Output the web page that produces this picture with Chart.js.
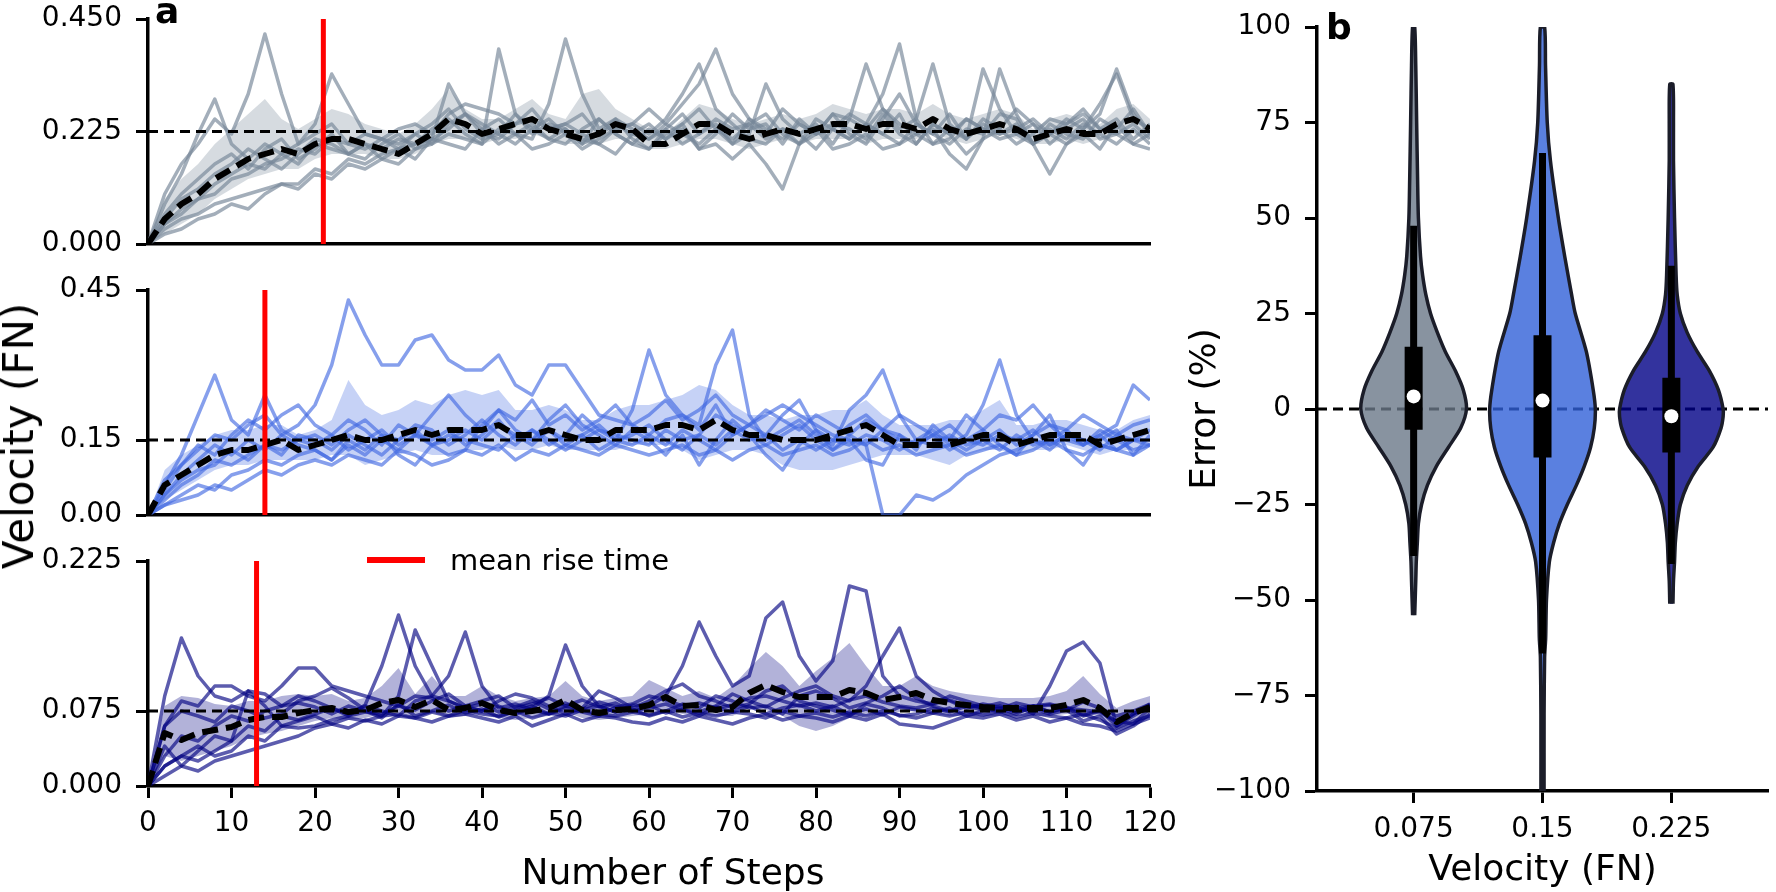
<!DOCTYPE html>
<html>
<head>
<meta charset="utf-8">
<title>Velocity tracking</title>
<script src="https://cdn.jsdelivr.net/npm/chart.js@4.4.1/dist/chart.umd.min.js"></script>
<style>
  body { margin: 0; background: #fff; }
  #page { position: relative; width: 1776px; height: 892px; overflow: hidden;
          font-family: 'DejaVu Sans', sans-serif; color: #000; }
  canvas { position: absolute; }
  .tag { position: absolute; font-size: 36px; font-weight: bold; line-height: 36px; }
  .label { position: absolute; font-size: 36px; line-height: 36px; white-space: nowrap;
           transform: translate(-50%, -50%); }
  #legend { position: absolute; left: 367px; top: 544px; height: 32px; display: flex; align-items: center;
            font-size: 29px; }
  #legend span.swatch { display: inline-block; width: 58px; height: 6px; background: #ff0000; margin-right: 25px; }
</style>
</head>
<body>
<div id="page">
  <canvas id="topChart" width="1200" height="262" style="left:0;top:0"></canvas>
  <canvas id="midChart" width="1200" height="280" style="left:0;top:260px"></canvas>
  <canvas id="botChart" width="1200" height="362" style="left:0;top:530px"></canvas>
  <canvas id="violinChart" width="600" height="892" style="left:1176px;top:0"></canvas>

  <div class="tag" style="left:155px;top:-7px">a</div>
  <div class="tag" style="left:1326px;top:9px">b</div>
  <div class="label" style="left:19px;top:436px;font-size:42px;transform:translate(-50%,-50%) rotate(-90deg)">Velocity (FN)</div>
  <div class="label" style="left:673px;top:872px">Number of Steps</div>
  <div id="legend"><span class="swatch"></span>mean rise time</div>
</div>

<script>
// steps along the episode (every second step is kept)
const steps = [0, 2, 4, 6, 8, 10, 12, 14, 16, 18, 20, 22, 24, 26, 28, 30, 32, 34, 36, 38,
  40, 42, 44, 46, 48, 50, 52, 54, 56, 58, 60, 62, 64, 66, 68, 70, 72, 74, 76, 78,
  80, 82, 84, 86, 88, 90, 92, 94, 96, 98, 100, 102, 104, 106, 108, 110, 112, 114, 116, 118, 120];

const targets = [0.225, 0.15, 0.075];
const riseTimes = [21, 14, 13];

// ---- panel a, top: target 0.225 FN ----
const topMean = [
  0, 0.05, 0.08, 0.1, 0.13, 0.15, 0.17, 0.18, 0.19, 0.18,
  0.2, 0.21, 0.21, 0.2, 0.19, 0.18, 0.2, 0.22, 0.25, 0.24,
  0.22, 0.23, 0.24, 0.25, 0.23, 0.22, 0.21, 0.22, 0.24, 0.23,
  0.2, 0.2, 0.22, 0.24, 0.24, 0.22, 0.21, 0.22, 0.23, 0.22,
  0.23, 0.24, 0.24, 0.23, 0.24, 0.24, 0.23, 0.25, 0.23, 0.22,
  0.23, 0.24, 0.23, 0.21, 0.22, 0.23, 0.22, 0.22, 0.24, 0.25, 0.23];
const topLow = [
  0, 0.02, 0.04, 0.06, 0.09, 0.11, 0.13, 0.14, 0.15, 0.15,
  0.17, 0.18, 0.18, 0.18, 0.17, 0.17, 0.18, 0.2, 0.21, 0.21,
  0.2, 0.21, 0.21, 0.22, 0.21, 0.2, 0.2, 0.2, 0.21, 0.21,
  0.19, 0.19, 0.2, 0.21, 0.21, 0.2, 0.19, 0.2, 0.21, 0.2,
  0.21, 0.21, 0.21, 0.2, 0.21, 0.21, 0.21, 0.22, 0.21, 0.2,
  0.21, 0.22, 0.21, 0.2, 0.2, 0.21, 0.2, 0.21, 0.22, 0.22, 0.21];
const topHigh = [
  0, 0.09, 0.13, 0.16, 0.2, 0.23, 0.26, 0.29, 0.25, 0.23,
  0.25, 0.27, 0.26, 0.24, 0.23, 0.22, 0.24, 0.27, 0.31, 0.27,
  0.25, 0.25, 0.27, 0.29, 0.26, 0.25, 0.3, 0.31, 0.27, 0.25,
  0.23, 0.22, 0.25, 0.28, 0.27, 0.25, 0.24, 0.25, 0.26, 0.25,
  0.26, 0.28, 0.27, 0.26, 0.27, 0.27, 0.26, 0.28, 0.26, 0.25,
  0.26, 0.27, 0.26, 0.23, 0.25, 0.26, 0.25, 0.24, 0.27, 0.28, 0.25];
const topRuns = [
  [0, 0.1, 0.16, 0.2, 0.25, 0.22, 0.3, 0.42, 0.3, 0.2,
   0.22, 0.24, 0.2, 0.19, 0.21, 0.2, 0.22, 0.24, 0.27, 0.23,
   0.21, 0.22, 0.26, 0.23, 0.21, 0.2, 0.23, 0.25, 0.22, 0.2,
   0.19, 0.23, 0.26, 0.22, 0.24, 0.2, 0.25, 0.23, 0.21, 0.24,
   0.22, 0.26, 0.22, 0.2, 0.25, 0.3, 0.24, 0.22, 0.2, 0.23,
   0.22, 0.26, 0.25, 0.2, 0.24, 0.22, 0.21, 0.25, 0.23, 0.27, 0.22],
  [0, 0.04, 0.07, 0.09, 0.12, 0.14, 0.16, 0.15, 0.18, 0.2,
   0.24, 0.34, 0.28, 0.22, 0.21, 0.19, 0.2, 0.21, 0.32, 0.26,
   0.22, 0.21, 0.24, 0.27, 0.23, 0.24, 0.22, 0.2, 0.23, 0.24,
   0.22, 0.25, 0.3, 0.36, 0.27, 0.24, 0.21, 0.2, 0.23, 0.22,
   0.24, 0.2, 0.25, 0.23, 0.27, 0.24, 0.22, 0.2, 0.21, 0.25,
   0.23, 0.22, 0.24, 0.2, 0.22, 0.24, 0.26, 0.23, 0.22, 0.24, 0.21],
  [0, 0.02, 0.03, 0.05, 0.06, 0.08, 0.07, 0.1, 0.12, 0.11,
   0.14, 0.13, 0.16, 0.15, 0.17, 0.16, 0.19, 0.2, 0.22, 0.21,
   0.2, 0.23, 0.22, 0.24, 0.21, 0.23, 0.2, 0.22, 0.24, 0.22,
   0.21, 0.23, 0.2, 0.22, 0.25, 0.23, 0.24, 0.21, 0.23, 0.2,
   0.22, 0.24, 0.23, 0.21, 0.26, 0.22, 0.2, 0.24, 0.22, 0.25,
   0.23, 0.21, 0.22, 0.2, 0.23, 0.21, 0.24, 0.22, 0.2, 0.23, 0.2],
  [0, 0.08, 0.14, 0.22, 0.29, 0.2, 0.17, 0.2, 0.18, 0.16,
   0.2, 0.19, 0.18, 0.2, 0.17, 0.19, 0.22, 0.2, 0.24, 0.26,
   0.23, 0.25, 0.22, 0.21, 0.28, 0.41, 0.3, 0.23, 0.25, 0.21,
   0.19, 0.22, 0.24, 0.27, 0.23, 0.2, 0.22, 0.32, 0.25, 0.22,
   0.19, 0.23, 0.21, 0.24, 0.22, 0.26, 0.2, 0.24, 0.22, 0.18,
   0.21, 0.23, 0.2, 0.22, 0.25, 0.24, 0.27, 0.23, 0.25, 0.21, 0.24],
  [0, 0.06, 0.1, 0.13, 0.16, 0.18, 0.15, 0.19, 0.21, 0.17,
   0.19, 0.22, 0.18, 0.2, 0.19, 0.21, 0.2, 0.23, 0.25, 0.22,
   0.2, 0.39, 0.26, 0.22, 0.24, 0.23, 0.2, 0.25, 0.22, 0.2,
   0.23, 0.21, 0.24, 0.19, 0.22, 0.26, 0.23, 0.24, 0.2, 0.25,
   0.22, 0.23, 0.26, 0.24, 0.3, 0.4, 0.25, 0.2, 0.23, 0.21,
   0.24, 0.22, 0.23, 0.25, 0.22, 0.2, 0.23, 0.26, 0.35, 0.26, 0.22],
  [0, 0.03, 0.05, 0.06, 0.08, 0.09, 0.1, 0.11, 0.12, 0.12,
   0.15, 0.14, 0.17, 0.16, 0.18, 0.19, 0.17, 0.21, 0.2, 0.19,
   0.23, 0.2, 0.22, 0.19, 0.2, 0.22, 0.21, 0.2, 0.18, 0.22,
   0.24, 0.21, 0.23, 0.19, 0.2, 0.17, 0.2, 0.16, 0.11, 0.2,
   0.23, 0.19, 0.2, 0.22, 0.19, 0.2, 0.22, 0.23, 0.18, 0.15,
   0.21, 0.35, 0.26, 0.2, 0.14, 0.2, 0.22, 0.19, 0.24, 0.2, 0.19],
  [0, 0.05, 0.09, 0.11, 0.14, 0.16, 0.19, 0.17, 0.15, 0.18,
   0.21, 0.2, 0.18, 0.17, 0.2, 0.22, 0.19, 0.21, 0.23, 0.26,
   0.24, 0.22, 0.2, 0.23, 0.25, 0.22, 0.19, 0.21, 0.23, 0.24,
   0.27, 0.24, 0.28, 0.32, 0.39, 0.3, 0.25, 0.22, 0.27, 0.24,
   0.22, 0.26, 0.25, 0.36, 0.27, 0.23, 0.25, 0.36, 0.24, 0.21,
   0.25, 0.23, 0.27, 0.24, 0.22, 0.25, 0.23, 0.28, 0.34, 0.25, 0.23],
  [0, 0.04, 0.06, 0.09, 0.1, 0.13, 0.14, 0.16, 0.17, 0.19,
   0.18, 0.21, 0.2, 0.22, 0.21, 0.23, 0.24, 0.22, 0.26, 0.28,
   0.27, 0.26, 0.24, 0.25, 0.23, 0.24, 0.26, 0.22, 0.25, 0.23,
   0.21, 0.24, 0.22, 0.2, 0.23, 0.21, 0.24, 0.26, 0.22, 0.2,
   0.25, 0.23, 0.21, 0.24, 0.22, 0.2, 0.24, 0.22, 0.26, 0.21,
   0.35, 0.27, 0.22, 0.24, 0.2, 0.23, 0.25, 0.21, 0.22, 0.2, 0.22]
];

// ---- panel a, middle: target 0.15 FN ----
const midMean = [
  0, 0.06, 0.08, 0.1, 0.12, 0.13, 0.13, 0.14, 0.15, 0.13,
  0.14, 0.15, 0.16, 0.15, 0.15, 0.16, 0.17, 0.16, 0.17, 0.17,
  0.17, 0.18, 0.16, 0.16, 0.17, 0.16, 0.15, 0.15, 0.17, 0.17,
  0.17, 0.18, 0.18, 0.17, 0.19, 0.17, 0.16, 0.16, 0.15, 0.15,
  0.15, 0.16, 0.17, 0.18, 0.16, 0.14, 0.14, 0.14, 0.14, 0.15,
  0.16, 0.16, 0.14, 0.15, 0.16, 0.16, 0.16, 0.14, 0.15, 0.16, 0.17];
const midLow = [
  0, 0.03, 0.05, 0.07, 0.09, 0.1, 0.1, 0.11, 0.11, 0.11,
  0.11, 0.12, 0.12, 0.1, 0.11, 0.12, 0.13, 0.12, 0.12, 0.13,
  0.13, 0.14, 0.13, 0.13, 0.14, 0.13, 0.13, 0.13, 0.13, 0.14,
  0.14, 0.14, 0.13, 0.11, 0.12, 0.13, 0.13, 0.12, 0.1, 0.09,
  0.09, 0.09, 0.1, 0.11, 0.12, 0.12, 0.12, 0.11, 0.1, 0.12,
  0.13, 0.13, 0.12, 0.13, 0.13, 0.14, 0.13, 0.12, 0.13, 0.13, 0.14];
const midHigh = [
  0, 0.09, 0.12, 0.14, 0.16, 0.17, 0.17, 0.18, 0.18, 0.16,
  0.17, 0.19, 0.27, 0.22, 0.2, 0.21, 0.23, 0.22, 0.24, 0.25,
  0.24, 0.25, 0.21, 0.21, 0.22, 0.21, 0.19, 0.19, 0.21, 0.22,
  0.22, 0.23, 0.24, 0.26, 0.25, 0.22, 0.2, 0.2, 0.19, 0.2,
  0.2, 0.21, 0.21, 0.23, 0.2, 0.18, 0.18, 0.18, 0.19, 0.19,
  0.21, 0.23, 0.18, 0.18, 0.19, 0.19, 0.18, 0.17, 0.17, 0.19, 0.2];
const midRuns = [
  [0, 0.04, 0.08, 0.11, 0.14, 0.12, 0.15, 0.13, 0.16, 0.18,
   0.22, 0.3, 0.43, 0.36, 0.3, 0.3, 0.35, 0.36, 0.31, 0.29,
   0.29, 0.32, 0.26, 0.24, 0.3, 0.3, 0.25, 0.2, 0.19, 0.18,
   0.16, 0.19, 0.2, 0.17, 0.22, 0.16, 0.18, 0.16, 0.2, 0.23,
   0.17, 0.15, 0.18, 0.2, 0.17, 0.16, 0.14, 0.16, 0.15, 0.13,
   0.15, 0.17, 0.14, 0.16, 0.18, 0.15, 0.14, 0.16, 0.18, 0.26, 0.23],
  [0, 0.06, 0.12, 0.2, 0.28, 0.19, 0.16, 0.24, 0.17, 0.15,
   0.14, 0.16, 0.13, 0.15, 0.17, 0.14, 0.16, 0.15, 0.17, 0.14,
   0.16, 0.19, 0.15, 0.17, 0.14, 0.16, 0.2, 0.17, 0.15, 0.21,
   0.33, 0.24, 0.2, 0.18, 0.3, 0.37, 0.2, 0.15, 0.17, 0.19,
   0.16, 0.14, 0.21, 0.24, 0.29, 0.2, 0.15, 0.17, 0.14, 0.16,
   0.22, 0.31, 0.2, 0.15, 0.13, 0.16, 0.14, 0.17, 0.15, 0.13, 0.14],
  [0, 0.02, 0.04, 0.06, 0.05, 0.08, 0.09, 0.11, 0.1, 0.12,
   0.13, 0.11, 0.14, 0.12, 0.15, 0.13, 0.16, 0.14, 0.15, 0.17,
   0.15, 0.18, 0.16, 0.14, 0.17, 0.15, 0.16, 0.18, 0.15, 0.14,
   0.16, 0.14, 0.17, 0.15, 0.13, 0.16, 0.18, 0.2, 0.22, 0.2,
   0.18, 0.16, 0.15, 0.14, 0, 0, 0.04, 0.03, 0.05, 0.08,
   0.1, 0.12, 0.13, 0.15, 0.14, 0.16, 0.15, 0.14, 0.13, 0.15, 0.14],
  [0, 0.05, 0.1, 0.14, 0.12, 0.16, 0.19, 0.17, 0.2, 0.22,
   0.18, 0.16, 0.19, 0.17, 0.14, 0.18, 0.16, 0.2, 0.24, 0.2,
   0.17, 0.21, 0.19, 0.23, 0.18, 0.2, 0.17, 0.19, 0.22, 0.18,
   0.2, 0.23, 0.19, 0.21, 0.24, 0.2, 0.18, 0.21, 0.19, 0.17,
   0.2, 0.18, 0.16, 0.19, 0.17, 0.2, 0.18, 0.16, 0.18, 0.15,
   0.17, 0.2, 0.19, 0.22, 0.18, 0.17, 0.2, 0.18, 0.16, 0.18, 0.19],
  [0, 0.02, 0.03, 0.04, 0.06, 0.05, 0.07, 0.09, 0.08, 0.1,
   0.11, 0.1, 0.12, 0.11, 0.1, 0.13, 0.12, 0.1, 0.11, 0.13,
   0.12, 0.14, 0.11, 0.13, 0.12, 0.14, 0.13, 0.12, 0.14, 0.13,
   0.12, 0.13, 0.14, 0.12, 0.13, 0.11, 0.13, 0.14, 0.12, 0.13,
   0.14, 0.12, 0.13, 0.15, 0.13, 0.14, 0.12, 0.13, 0.14, 0.12,
   0.13, 0.14, 0.12, 0.13, 0.15, 0.13, 0.12, 0.14, 0.13, 0.12, 0.14],
  [0, 0.07, 0.1, 0.13, 0.16, 0.15, 0.18, 0.2, 0.16, 0.14,
   0.13, 0.11, 0.15, 0.13, 0.16, 0.12, 0.1, 0.14, 0.12, 0.13,
   0.18, 0.21, 0.17, 0.15, 0.19, 0.22, 0.18, 0.16, 0.14, 0.17,
   0.15, 0.12, 0.16, 0.1, 0.15, 0.19, 0.16, 0.12, 0.09, 0.14,
   0.17, 0.13, 0.15, 0.11, 0.1, 0.16, 0.13, 0.18, 0.15, 0.2,
   0.17, 0.14, 0.12, 0.16, 0.2, 0.13, 0.1, 0.15, 0.17, 0.12, 0.16],
  [0, 0.03, 0.06, 0.08, 0.11, 0.1, 0.12, 0.14, 0.13, 0.15,
   0.16, 0.14, 0.17, 0.19, 0.16, 0.15, 0.18, 0.17, 0.14, 0.16,
   0.19, 0.16, 0.14, 0.17, 0.15, 0.13, 0.15, 0.17, 0.16, 0.15,
   0.14, 0.17, 0.15, 0.16, 0.2, 0.18, 0.16, 0.14, 0.16, 0.18,
   0.15, 0.13, 0.16, 0.14, 0.17, 0.15, 0.14, 0.16, 0.13, 0.15,
   0.14, 0.16, 0.15, 0.17, 0.14, 0.16, 0.15, 0.13, 0.16, 0.15, 0.15],
  [0, 0.04, 0.07, 0.09, 0.1, 0.13, 0.11, 0.14, 0.12, 0.16,
   0.15, 0.13, 0.16, 0.14, 0.12, 0.15, 0.17, 0.14, 0.16, 0.15,
   0.14, 0.13, 0.16, 0.15, 0.17, 0.14, 0.16, 0.13, 0.15, 0.16,
   0.18, 0.15, 0.13, 0.16, 0.14, 0.17, 0.15, 0.16, 0.13, 0.15,
   0.13, 0.15, 0.14, 0.16, 0.15, 0.13, 0.15, 0.14, 0.16, 0.14,
   0.15, 0.13, 0.16, 0.14, 0.15, 0.17, 0.14, 0.16, 0.13, 0.15, 0.17]
];

// ---- panel a, bottom: target 0.075 FN ----
const botMean = [
  0, 0.053, 0.046, 0.053, 0.056, 0.059, 0.066, 0.069, 0.069, 0.073,
  0.076, 0.078, 0.074, 0.076, 0.083, 0.086, 0.079, 0.086, 0.076, 0.078,
  0.083, 0.076, 0.073, 0.075, 0.078, 0.086, 0.076, 0.073, 0.076, 0.077,
  0.081, 0.089, 0.08, 0.081, 0.076, 0.079, 0.093, 0.101, 0.094, 0.089,
  0.089, 0.089, 0.096, 0.093, 0.086, 0.089, 0.093, 0.086, 0.083, 0.081,
  0.079, 0.078, 0.078, 0.078, 0.078, 0.081, 0.086, 0.078, 0.064, 0.073, 0.079];
const botLow = [
  0, 0.03, 0.025, 0.03, 0.035, 0.04, 0.048, 0.052, 0.055, 0.06,
  0.065, 0.068, 0.066, 0.068, 0.072, 0.074, 0.07, 0.074, 0.068, 0.07,
  0.072, 0.068, 0.066, 0.068, 0.07, 0.074, 0.068, 0.066, 0.068, 0.07,
  0.072, 0.076, 0.072, 0.072, 0.07, 0.07, 0.078, 0.076, 0.07, 0.06,
  0.055, 0.06, 0.068, 0.07, 0.072, 0.074, 0.075, 0.072, 0.07, 0.07,
  0.07, 0.07, 0.07, 0.07, 0.07, 0.072, 0.074, 0.07, 0.056, 0.064, 0.07];
const botHigh = [
  0, 0.08, 0.09, 0.088, 0.082, 0.08, 0.085, 0.085, 0.09, 0.092,
  0.09, 0.092, 0.085, 0.088, 0.1, 0.118, 0.092, 0.11, 0.09, 0.09,
  0.1, 0.09, 0.085, 0.088, 0.09, 0.105, 0.09, 0.085, 0.088, 0.09,
  0.106, 0.098, 0.09, 0.095, 0.088, 0.1, 0.118, 0.134, 0.12, 0.1,
  0.115, 0.128, 0.143, 0.12, 0.1, 0.1, 0.11, 0.1, 0.095, 0.092,
  0.09, 0.088, 0.088, 0.088, 0.09, 0.095, 0.11, 0.092, 0.078, 0.085, 0.09];
const botRuns = [
  [0, 0.09, 0.148, 0.11, 0.09, 0.085, 0.095, 0.092, 0.08, 0.083,
   0.079, 0.072, 0.08, 0.075, 0.068, 0.082, 0.07, 0.075, 0.081, 0.073,
   0.077, 0.069, 0.075, 0.08, 0.072, 0.078, 0.074, 0.07, 0.079, 0.075,
   0.081, 0.073, 0.077, 0.07, 0.079, 0.074, 0.08, 0.072, 0.078, 0.081,
   0.075, 0.08, 0.072, 0.077, 0.071, 0.079, 0.076, 0.073, 0.078, 0.07,
   0.075, 0.078, 0.072, 0.08, 0.074, 0.079, 0.071, 0.076, 0.06, 0.072, 0.08],
  [0, 0.04, 0.02, 0.035, 0.05, 0.045, 0.06, 0.055, 0.07, 0.066,
   0.072, 0.078, 0.07, 0.081, 0.12, 0.171, 0.12, 0.09, 0.085, 0.078,
   0.082, 0.074, 0.079, 0.085, 0.077, 0.083, 0.076, 0.08, 0.074, 0.081,
   0.08, 0.09, 0.12, 0.164, 0.13, 0.1, 0.11, 0.168, 0.184, 0.13,
   0.105, 0.125, 0.2, 0.195, 0.11, 0.09, 0.085, 0.082, 0.09, 0.085,
   0.08, 0.077, 0.083, 0.079, 0.081, 0.076, 0.084, 0.078, 0.07, 0.075, 0.082],
  [0, 0.06, 0.075, 0.07, 0.064, 0.08, 0.075, 0.068, 0.072, 0.085,
   0.09, 0.098, 0.088, 0.076, 0.07, 0.09, 0.156, 0.12, 0.085, 0.078,
   0.075, 0.08, 0.072, 0.078, 0.09, 0.141, 0.1, 0.08, 0.074, 0.077,
   0.07, 0.075, 0.082, 0.078, 0.09, 0.085, 0.078, 0.08, 0.072, 0.09,
   0.095, 0.088, 0.078, 0.083, 0.09, 0.1, 0.088, 0.08, 0.075, 0.082,
   0.078, 0.074, 0.08, 0.072, 0.1, 0.135, 0.144, 0.123, 0.06, 0.07, 0.08],
  [0, 0.03, 0.05, 0.045, 0.06, 0.07, 0.065, 0.075, 0.08, 0.09,
   0.085, 0.078, 0.072, 0.08, 0.075, 0.07, 0.085, 0.09, 0.11, 0.154,
   0.1, 0.078, 0.082, 0.076, 0.072, 0.08, 0.086, 0.079, 0.083, 0.075,
   0.078, 0.082, 0.076, 0.074, 0.08, 0.092, 0.085, 0.079, 0.088, 0.095,
   0.1, 0.09, 0.085, 0.1, 0.13, 0.158, 0.11, 0.095, 0.085, 0.078,
   0.082, 0.079, 0.075, 0.08, 0.074, 0.078, 0.07, 0.075, 0.065, 0.062, 0.078],
  [0, 0.01, 0.02, 0.015, 0.025, 0.03, 0.035, 0.04, 0.045, 0.05,
   0.058, 0.062, 0.068, 0.065, 0.07, 0.072, 0.068, 0.074, 0.07, 0.076,
   0.072, 0.07, 0.075, 0.068, 0.073, 0.07, 0.076, 0.072, 0.07, 0.074,
   0.071, 0.075, 0.069, 0.073, 0.07, 0.074, 0.072, 0.068, 0.075, 0.07,
   0.073, 0.069, 0.074, 0.07, 0.075, 0.071, 0.068, 0.073, 0.07, 0.074,
   0.071, 0.075, 0.069, 0.073, 0.07, 0.068, 0.072, 0.066, 0.058, 0.065, 0.07],
  [0, 0.02, 0.03, 0.04, 0.03, 0.035, 0.05, 0.045, 0.06, 0.058,
   0.06, 0.066, 0.07, 0.074, 0.072, 0.08, 0.076, 0.085, 0.092, 0.08,
   0.075, 0.085, 0.092, 0.088, 0.08, 0.072, 0.078, 0.095, 0.088, 0.078,
   0.085, 0.095, 0.102, 0.09, 0.085, 0.078, 0.082, 0.095, 0.1, 0.085,
   0.08, 0.076, 0.07, 0.082, 0.078, 0.07, 0.072, 0.078, 0.074, 0.08,
   0.076, 0.08, 0.074, 0.078, 0.072, 0.076, 0.065, 0.07, 0.052, 0.06, 0.072],
  [0, 0.02, 0.03, 0.025, 0.035, 0.045, 0.095, 0.08, 0.06, 0.065,
   0.07, 0.062, 0.058, 0.066, 0.062, 0.07, 0.068, 0.064, 0.07, 0.072,
   0.068, 0.064, 0.07, 0.06, 0.066, 0.072, 0.065, 0.07, 0.068, 0.064,
   0.062, 0.068, 0.064, 0.07, 0.066, 0.062, 0.068, 0.072, 0.066, 0.07,
   0.068, 0.064, 0.07, 0.066, 0.072, 0.062, 0.06, 0.058, 0.064, 0.07,
   0.068, 0.072, 0.066, 0.07, 0.064, 0.068, 0.062, 0.06, 0.055, 0.062, 0.068],
  [0, 0.06, 0.085, 0.08, 0.1, 0.1, 0.09, 0.085, 0.1, 0.118,
   0.118, 0.1, 0.095, 0.09, 0.085, 0.08, 0.09, 0.088, 0.075, 0.08,
   0.085, 0.09, 0.078, 0.082, 0.088, 0.08, 0.077, 0.084, 0.079, 0.082,
   0.09, 0.086, 0.08, 0.083, 0.078, 0.081, 0.088, 0.09, 0.085, 0.08,
   0.083, 0.079, 0.086, 0.09, 0.084, 0.08, 0.078, 0.082, 0.086, 0.08,
   0.079, 0.083, 0.078, 0.08, 0.082, 0.078, 0.076, 0.074, 0.064, 0.072, 0.082]
];

const topTicks = [0, 0.225, 0.45];
const topTickLabels = ['0.000', '0.225', '0.450'];
const midTicks = [0, 0.15, 0.45];
const midTickLabels = ['0.00', '0.15', '0.45'];
const botTicks = [0, 0.075, 0.225];
const botTickLabels = ['0.000', '0.075', '0.225'];

// ---- panel b: error distributions per velocity ----
const velLabels = ['0.075', '0.15', '0.225'];
const levels075 = [-54, -45, -40, -35, -30, -25, -20, -15, -10, -5, 0, 5, 10, 15, 20, 25, 30, 35, 40, 50, 60, 75, 90, 100];
const density075 = [0.02, 0.04, 0.05, 0.07, 0.09, 0.15, 0.26, 0.43, 0.66, 0.89, 1, 0.94, 0.79, 0.6, 0.45, 0.32, 0.23, 0.17, 0.13, 0.09, 0.075, 0.057, 0.04, 0.02];
const levels15 = [-100, -80, -65, -60, -50, -40, -35, -30, -25, -20, -15, -10, -5, 0, 5, 15, 25, 30, 40, 50, 65, 75, 90, 100];
const density15 = [0.03, 0.03, 0.04, 0.06, 0.075, 0.13, 0.21, 0.32, 0.47, 0.64, 0.79, 0.91, 0.98, 1, 0.96, 0.83, 0.62, 0.55, 0.42, 0.3, 0.15, 0.09, 0.057, 0.04];
const levels225 = [-51, -45, -40, -35, -30, -25, -20, -15, -10, -5, -2, 0, 5, 10, 15, 20, 25, 30, 35, 50, 65, 75, 85];
const density225 = [0.03, 0.04, 0.06, 0.075, 0.11, 0.17, 0.3, 0.51, 0.79, 0.94, 0.98, 0.98, 0.89, 0.72, 0.49, 0.3, 0.17, 0.11, 0.09, 0.06, 0.04, 0.04, 0.03];
const boxQ1 = [-5.4, -12.7, -11.4];
const boxQ3 = [16.3, 19.3, 8.2];
const boxMedian = [3.3, 2.2, -1.9];
const whiskerLow = [-38.5, -64, -40.6];
const whiskerHigh = [48, 67, 37.5];

Chart.defaults.font.family = "'DejaVu Sans', sans-serif";
Chart.defaults.color = '#000';

function axisGrid(showTicks) {
  return { display: true, drawOnChartArea: false, drawTicks: showTicks, tickLength: 12,
           tickWidth: 3, tickColor: '#000', color: '#000' };
}

// keep the plot box where the layout puts it: labels may hang over the edges
function noLabelPadding(s) {
  s.paddingTop = 0;
  s.paddingBottom = 0;
}

function makeRunPanel(id, cfg) {
  const datasets = [];
  datasets.push({ data: [{ x: cfg.rise, y: 0 }, { x: cfg.rise, y: cfg.ticks[2] }],
                  borderColor: '#ff0000', borderWidth: 5, order: 0 });
  datasets.push({ data: cfg.mean, borderColor: '#000', borderWidth: 6, borderDash: [16, 8], order: 1 });
  datasets.push({ data: [{ x: 0, y: cfg.target }, { x: 120, y: cfg.target }],
                  borderColor: '#000', borderWidth: 3, borderDash: [10, 6], order: 2 });
  cfg.runs.forEach(r => datasets.push({ data: r, borderColor: cfg.line, borderWidth: 3.5, order: 3 }));
  datasets.push({ data: cfg.low, borderWidth: 0, borderColor: 'rgba(0,0,0,0)', order: 4 });
  datasets.push({ data: cfg.high, borderWidth: 0, borderColor: 'rgba(0,0,0,0)',
                  backgroundColor: cfg.band, fill: '-1', order: 4 });

  return new Chart(document.getElementById(id), {
    type: 'line',
    data: { labels: steps, datasets: datasets },
    options: {
      responsive: false,
      animation: false,
      devicePixelRatio: 1,
      layout: { padding: { top: cfg.padTop, right: 50, bottom: cfg.padBottom, left: 0 } },
      elements: { point: { radius: 0 }, line: { tension: 0, fill: false, borderJoinStyle: 'round' } },
      plugins: { legend: { display: false }, tooltip: { enabled: false } },
      scales: {
        x: {
          type: 'linear', min: 0, max: 120,
          ticks: { display: cfg.showX, stepSize: 10, autoSkip: false, maxRotation: 0, padding: 9,
                   font: { size: 28 } },
          grid: axisGrid(cfg.showX),
          border: { color: '#000', width: 3.5 },
          afterFit: s => { s.height = cfg.showX ? 106 : 0; }
        },
        y: {
          min: 0, max: cfg.ticks[2],
          afterBuildTicks: s => { s.ticks = cfg.ticks.map(v => ({ value: v })); },
          ticks: { callback: (v, i) => cfg.tickLabels[i], padding: 14, font: { size: 28 } },
          grid: axisGrid(true),
          border: { color: '#000', width: 3.5 },
          afterFit: s => { s.width = 148; noLabelPadding(s); }
        }
      }
    }
  });
}

makeRunPanel('topChart', { runs: topRuns, mean: topMean, low: topLow, high: topHigh,
  target: targets[0], rise: riseTimes[0], ticks: topTicks, tickLabels: topTickLabels,
  line: 'rgba(119,136,153,0.68)', band: 'rgba(119,136,153,0.3)', padTop: 19, padBottom: 18, showX: false });
makeRunPanel('midChart', { runs: midRuns, mean: midMean, low: midLow, high: midHigh,
  target: targets[1], rise: riseTimes[1], ticks: midTicks, tickLabels: midTickLabels,
  line: 'rgba(65,105,225,0.64)', band: 'rgba(65,105,225,0.3)', padTop: 30, padBottom: 25, showX: false });
makeRunPanel('botChart', { runs: botRuns, mean: botMean, low: botLow, high: botHigh,
  target: targets[2], rise: riseTimes[2], ticks: botTicks, tickLabels: botTickLabels,
  line: 'rgba(0,0,128,0.64)', band: 'rgba(0,0,128,0.3)', padTop: 31, padBottom: 0, showX: true });

// violins: outline built from the density profile, mirrored around the category position
const halfMax = 0.41;
function violinOutline(c, levels, dens) {
  const right = levels.map((v, i) => ({ x: c + dens[i] * halfMax, y: v }));
  const left = levels.map((v, i) => ({ x: c - dens[i] * halfMax, y: v })).reverse();
  return right.concat(left);
}

const violinFills = ['rgba(106,120,136,0.8)', 'rgba(49,96,216,0.8)', 'rgba(0,0,134,0.8)'];
const violinShapes = [
  violinOutline(0, levels075, density075),
  violinOutline(1, levels15, density15),
  violinOutline(2, levels225, density225)
];

const vDatasets = [{
  data: [{ x: -0.75, y: 0 }, { x: 2.75, y: 0 }],
  borderColor: '#000', borderWidth: 3, borderDash: [10, 6], order: 5
}];
violinShapes.forEach((shape, i) => {
  vDatasets.push({ data: shape, borderColor: '#1b1d29', borderWidth: 3.5, backgroundColor: violinFills[i],
                   fill: 'shape', tension: 0.25, order: 4 });
  vDatasets.push({ data: [{ x: i, y: whiskerLow[i] }, { x: i, y: whiskerHigh[i] }],
                   borderColor: '#000', borderWidth: 7, order: 2 });
  vDatasets.push({ data: [{ x: i, y: boxQ1[i] }, { x: i, y: boxQ3[i] }],
                   borderColor: '#000', borderWidth: 18, order: 1 });
  vDatasets.push({ data: [{ x: i, y: boxMedian[i] }], showLine: false, pointRadius: 7,
                   pointBackgroundColor: '#fff', pointBorderWidth: 0, order: 0 });
});

new Chart(document.getElementById('violinChart'), {
  type: 'scatter',
  data: { datasets: vDatasets },
  options: {
    responsive: false,
    animation: false,
    devicePixelRatio: 1,
    layout: { padding: { top: 27, right: 8, bottom: 0, left: 0 } },
    elements: { point: { radius: 0 }, line: { borderJoinStyle: 'round' } },
    datasets: { scatter: { showLine: true } },
    plugins: { legend: { display: false }, tooltip: { enabled: false } },
    scales: {
      x: {
        type: 'linear', min: -0.75, max: 2.75,
        afterBuildTicks: s => { s.ticks = velLabels.map((l, i) => ({ value: i })); },
        ticks: { callback: v => velLabels[v], padding: 10, maxRotation: 0, font: { size: 28 } },
        grid: axisGrid(true),
        border: { color: '#000', width: 3.5 },
        title: { display: true, text: 'Velocity (FN)', font: { size: 36 }, padding: 0 },
        afterFit: s => { s.height = 101; }
      },
      y: {
        min: -100, max: 100,
        ticks: { stepSize: 25, padding: 14, font: { size: 28 },
                 callback: v => v < 0 ? '\u2212' + Math.abs(v) : String(v) },
        grid: axisGrid(true),
        border: { color: '#000', width: 3.5 },
        title: { display: true, text: 'Error (%)', font: { size: 36 }, padding: { top: 8, bottom: 0 } },
        afterFit: s => { s.width = 141; noLabelPadding(s); }
      }
    }
  }
});
</script>
</body>
</html>
